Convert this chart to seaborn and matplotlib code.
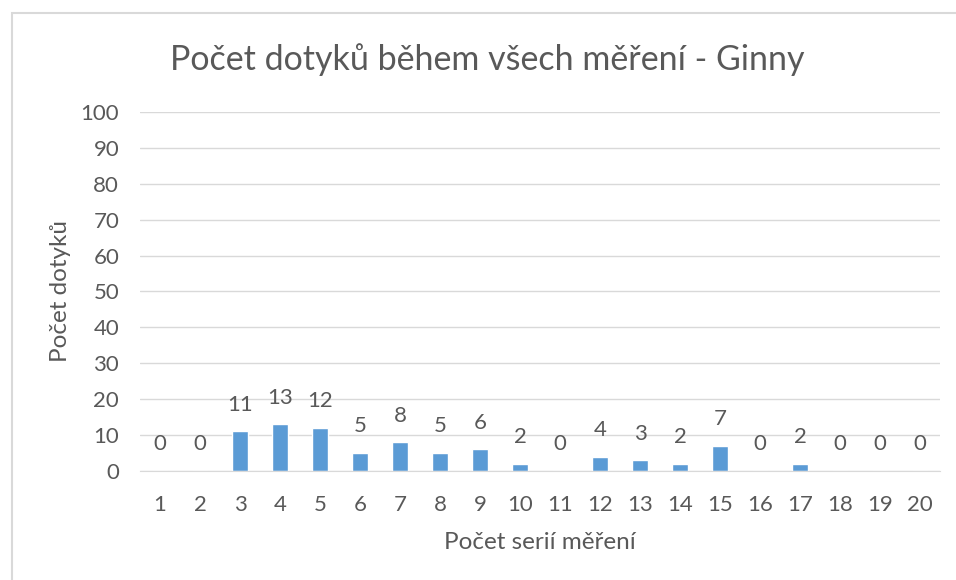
import seaborn as sns
import matplotlib.pyplot as plt
import pandas as pd
from matplotlib.patches import Rectangle

# data
serie = list(range(1, 21))
dotyky = [0, 0, 11, 13, 12, 5, 8, 5, 6, 2, 0, 4, 3, 2, 7, 0, 2, 0, 0, 0]
y_ticks = list(range(0, 101, 10))

df = pd.DataFrame({"serie": serie, "dotyky": dotyky})

sns.set_style("white")
plt.rcParams["font.family"] = ["Lato", "DejaVu Sans"]
txt = "#595959"

fig = plt.figure(figsize=(9.56, 5.8), dpi=100)
ax = fig.add_axes([0.1464, 0.188, 0.837, 0.619])

sns.barplot(data=df, x="serie", y="dotyky", color="#5b9bd5", width=0.4,
            saturation=1, ax=ax, zorder=3)

ax.bar_label(ax.containers[0], labels=[str(v) for v in dotyky],
             padding=12, fontsize=16, color=txt)

ax.set_ylim(0, 100)
ax.set_yticks(y_ticks)
ax.set_xlim(-0.5, 19.5)
ax.yaxis.grid(True, color="#d9d9d9", linewidth=1, zorder=0)
ax.tick_params(axis="both", length=0, labelsize=16, colors=txt)
ax.tick_params(axis="x", pad=17)
ax.tick_params(axis="y", pad=15)

for s in ["top", "right", "left"]:
    ax.spines[s].set_visible(False)
ax.spines["bottom"].set_color("#d9d9d9")
ax.spines["bottom"].set_zorder(4)

ax.set_xlabel("Počet serií měření", fontsize=17.5, color=txt)
ax.set_ylabel("Počet dotyků", fontsize=17.5, color=txt)
ax.xaxis.set_label_coords(0.5, -0.17)
ax.yaxis.set_label_coords(-0.086, 0.5)
fig.text(0.51, 0.897, "Počet dotyků během všech měření - Ginny",
         ha="center", va="center", fontsize=24.5, color=txt)

# chart frame
fig.patches.append(Rectangle((12 / 956, -0.05), 1.0, 1 - 13 / 580 + 0.05,
                             transform=fig.transFigure, fill=False,
                             edgecolor="#d9d9d9", linewidth=1.5))

plt.savefig("out.png", dpi=100)
